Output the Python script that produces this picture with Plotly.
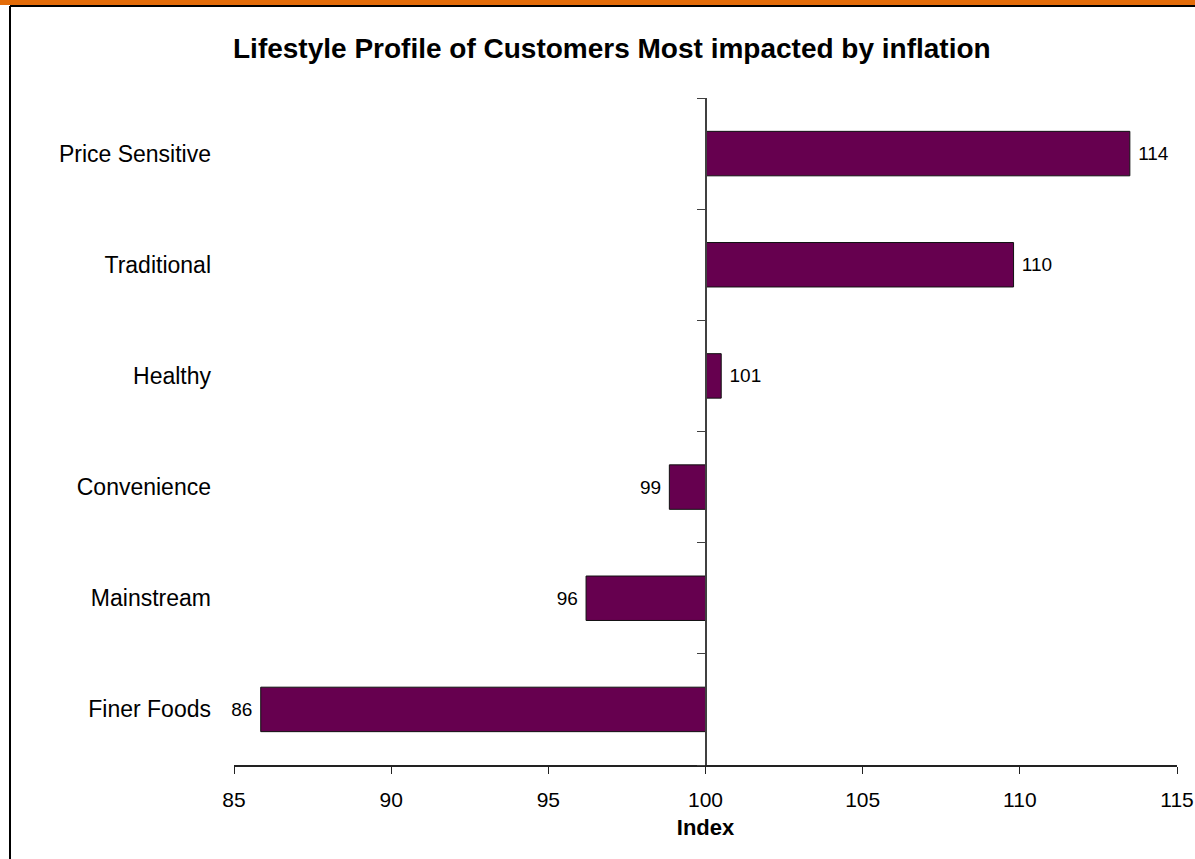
import plotly.graph_objects as go

# Data (top-to-bottom order as in the reference)
categories = ["Price Sensitive", "Traditional", "Healthy", "Convenience", "Mainstream", "Finer Foods"]
index_values = [113.5, 109.8, 100.5, 98.85, 96.2, 85.85]
value_labels = ["114", "110", "101", "99", "96", "86"]
baseline = 100
x_ticks = [85, 90, 95, 100, 105, 110, 115]

# Plotly draws the first category at the bottom, so reverse
cats_plot = categories[::-1]
vals_plot = index_values[::-1]
labels_plot = value_labels[::-1]
# small gap between bar end and its label
text_plot = [(" " + t) if v >= baseline else (t + " ") for t, v in zip(labels_plot, vals_plot)]

FONT = "Liberation Sans, Arial, sans-serif"
BAR_COLOR = "#66004F"

fig = go.Figure()

fig.add_trace(go.Bar(
    y=cats_plot,
    x=[v - baseline for v in vals_plot],
    base=baseline,
    orientation="h",
    width=0.4,
    marker=dict(color=BAR_COLOR, line=dict(color="#111111", width=1)),
    text=text_plot,
    textposition="outside",
    textfont=dict(family=FONT, size=19, color="#000000"),
    cliponaxis=False,
    hoverinfo="skip",
    showlegend=False,
))

# invisible trace to anchor the centre (x=100) axis line
fig.add_trace(go.Scatter(
    y=cats_plot,
    x=vals_plot,
    yaxis="y2",
    mode="markers",
    marker=dict(opacity=0),
    hoverinfo="skip",
    showlegend=False,
))

fig.update_layout(
    width=1195,
    height=859,
    margin=dict(l=234, r=18, t=98, b=94, autoexpand=False),
    paper_bgcolor="white",
    plot_bgcolor="white",
    title=dict(
        text="<b>Lifestyle Profile of Customers Most impacted by inflation</b>",
        font=dict(family=FONT, size=28, color="#000000"),
        x=0.512, xref="container", xanchor="center",
        y=1 - 48 / 859, yref="container", yanchor="middle",
    ),
    xaxis=dict(
        range=[x_ticks[0], x_ticks[-1]],
        tickvals=x_ticks,
        showgrid=False,
        zeroline=False,
        showline=True,
        linecolor="#222222",
        linewidth=1.5,
        ticks="outside",
        ticklen=7,
        tickcolor="#222222",
        tickfont=dict(family=FONT, size=21, color="#000000"),
        ticklabelstandoff=8,
        automargin=False,
        title=dict(text="<b>Index</b>", font=dict(family=FONT, size=22, color="#000000"), standoff=10),
    ),
    yaxis=dict(
        type="category",
        categoryorder="array",
        categoryarray=cats_plot,
        range=[-0.5, len(cats_plot) - 0.5],
        showgrid=False,
        zeroline=False,
        showline=False,
        ticks="",
        tickfont=dict(family=FONT, size=23, color="#000000"),
        ticklabelstandoff=22,
        automargin=False,
    ),
    yaxis2=dict(
        type="category",
        categoryorder="array",
        categoryarray=cats_plot,
        range=[-0.5, len(cats_plot) - 0.5],
        overlaying="y",
        anchor="free",
        position=(baseline - x_ticks[0]) / (x_ticks[-1] - x_ticks[0]),
        side="left",
        showgrid=False,
        zeroline=False,
        showline=True,
        linecolor="#404040",
        linewidth=1.5,
        ticks="outside",
        tickson="boundaries",
        ticklen=8,
        tickcolor="#404040",
        showticklabels=False,
        automargin=False,
    ),
    shapes=[
        # orange band at top of page
        dict(type="rect", xref="paper", yref="paper",
             x0=-0.26, x1=1.03, y0=(765 - 5) / 667, y1=(765 + 2) / 667,
             fillcolor="#E36C09", line=dict(width=0), layer="below"),
        # black frame: top and left edges
        dict(type="line", xref="paper", yref="paper",
             x0=(10 - 234) / 943, x1=1.03, y0=(765 - 6) / 667, y1=(765 - 6) / 667,
             line=dict(color="#000000", width=2)),
        dict(type="line", xref="paper", yref="paper",
             x0=(10 - 234) / 943, x1=(10 - 234) / 943, y0=(765 - 6) / 667, y1=-0.2,
             line=dict(color="#000000", width=2)),
    ],
)

fig.write_html(
    "out.html",
    config={"displayModeBar": False},
    post_script="document.body.style.margin='0';document.body.style.overflow='hidden';",
)
